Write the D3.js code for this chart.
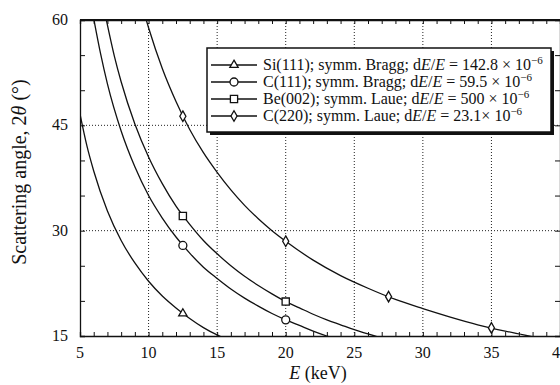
<!DOCTYPE html>
<html>
<head>
<meta charset="utf-8">
<script src="https://cdn.jsdelivr.net/npm/d3@7"></script>
<style>
  body { margin: 0; background: #fff; }
  text { font-family: "Liberation Serif", "DejaVu Serif", serif; fill: #111; }
</style>
</head>
<body>
<div id="chart"></div>
<script>
// data
var siE = [5, 5.5, 6, 7, 8, 9, 10, 11, 12, 13, 14, 15, 15.5];
var siAngle = [46.6, 42.1, 38.5, 32.8, 28.6, 25.4, 22.8, 20.7, 19.0, 17.5, 16.2, 15.15, 14.7];

var c111E = [6, 6.5, 7, 8, 9, 10, 11, 12, 13, 14, 15, 16, 17, 18, 19, 20, 21, 22, 23, 23.5];
var c111Angle = [60.2, 55.2, 50.9, 44.2, 39.1, 35.0, 31.8, 29.1, 26.8, 24.8, 23.2, 21.7, 20.4, 19.25, 18.2, 17.3, 16.5, 15.7, 15.0, 14.7];

var beE = [6.9, 7.5, 8, 9, 10, 11, 12, 13, 14, 15, 16, 17, 18, 19, 20, 21, 22, 23, 24, 25, 26, 27];
var beAngle = [60.2, 54.9, 51.2, 45.2, 40.5, 36.7, 33.5, 30.9, 28.6, 26.7, 25.0, 23.5, 22.2, 21.0, 19.9, 19.0, 18.1, 17.3, 16.6, 15.9, 15.3, 14.7];

var c220E = [9.8, 10, 11, 12, 13, 14, 15, 16, 17, 18, 19, 20, 22, 24, 26, 28, 30, 32, 34, 36, 38];
var c220Angle = [60.2, 58.9, 53.1, 48.4, 44.4, 41.1, 38.3, 35.8, 33.6, 31.7, 30.0, 28.5, 25.8, 23.6, 21.8, 20.2, 18.9, 17.7, 16.6, 15.7, 14.9];

// marker points
var siMarkE = [12.5], siMarkAngle = [18.2];
var c111MarkE = [12.5, 20], c111MarkAngle = [27.9, 17.3];
var beMarkE = [12.5, 20], beMarkAngle = [32.1, 19.9];
var c220MarkE = [12.5, 20, 27.5, 35], c220MarkAngle = [46.3, 28.5, 20.6, 16.15];

var xTicks = [5, 10, 15, 20, 25, 30, 35, 40];
var yTicks = [15, 30, 45, 60];
var xGrid = [10, 15, 20, 25, 30, 35];
var yGrid = [30, 45];

var legendNames = ["Si(111); symm. Bragg; d", "C(111); symm. Bragg; d", "Be(002); symm. Laue; d", "C(220); symm. Laue; d"];
var legendValues = [" = 142.8 \u00d7 10", " = 59.5 \u00d7 10", " = 500 \u00d7 10", " = 23.1\u00d7 10"];

var svgWidth = 560, svgHeight = 385;
var plotLeft = 80, plotRight = 560, plotTop = 20, plotBottom = 336;

var svg = d3.select("#chart").append("svg")
  .attr("width", svgWidth)
  .attr("height", svgHeight);

var x = d3.scaleLinear().domain([5, 40]).range([plotLeft, plotRight]);
var y = d3.scaleLinear().domain([15, 60]).range([plotBottom, plotTop]);

// clip for curves
svg.append("defs").append("clipPath").attr("id", "plotclip")
  .append("rect")
  .attr("x", plotLeft).attr("y", plotTop)
  .attr("width", plotRight - plotLeft).attr("height", plotBottom - plotTop);

// dotted grid
svg.append("g").selectAll("line")
  .data(xGrid).enter().append("line")
  .attr("x1", d => x(d)).attr("x2", d => x(d))
  .attr("y1", plotTop).attr("y2", plotBottom)
  .attr("stroke", "#222").attr("stroke-width", 1)
  .attr("stroke-dasharray", "1,2");

svg.append("g").selectAll("line")
  .data(yGrid).enter().append("line")
  .attr("x1", plotLeft).attr("x2", plotRight)
  .attr("y1", d => y(d)).attr("y2", d => y(d))
  .attr("stroke", "#222").attr("stroke-width", 1)
  .attr("stroke-dasharray", "1,2");

// axes with inward ticks
var bottomAxis = d3.axisTop(x).ticks(35).tickSize(4).tickFormat("");
var topAxis = d3.axisBottom(x).ticks(35).tickSize(4).tickFormat("");
var leftAxis = d3.axisRight(y).ticks(9).tickSize(5).tickFormat("");
var rightAxis = d3.axisLeft(y).ticks(9).tickSize(5).tickFormat("");

svg.append("g").attr("transform", `translate(0, ${plotBottom})`).call(bottomAxis);
svg.append("g").attr("transform", `translate(0, ${plotTop})`).call(topAxis);
svg.append("g").attr("transform", `translate(${plotLeft}, 0)`).call(leftAxis);
svg.append("g").attr("transform", `translate(${plotRight}, 0)`).call(rightAxis);

svg.selectAll(".domain").attr("stroke", "#111").attr("stroke-width", 1.3);
svg.selectAll(".tick line").attr("stroke", "#111").attr("stroke-width", 1);

// thicker top border
svg.append("line")
  .attr("x1", plotLeft).attr("x2", plotRight)
  .attr("y1", plotTop).attr("y2", plotTop)
  .attr("stroke", "#111").attr("stroke-width", 2);

// tick labels
svg.append("g").selectAll("text")
  .data(xTicks).enter().append("text")
  .attr("x", d => x(d)).attr("y", 358)
  .attr("text-anchor", "middle")
  .attr("font-size", "16px")
  .text(d => d);

svg.append("g").selectAll("text")
  .data(yTicks).enter().append("text")
  .attr("x", 68).attr("y", d => y(d) + 5)
  .attr("text-anchor", "end")
  .attr("font-size", "16px")
  .text(d => d);

// axis titles
var xTitle = svg.append("text")
  .attr("x", 318).attr("y", 379)
  .attr("text-anchor", "middle")
  .attr("font-size", "18px");
xTitle.append("tspan").attr("font-style", "italic").text("E");
xTitle.append("tspan").text(" (keV)");

var yTitle = svg.append("text")
  .attr("transform", "translate(26, 172) rotate(-90)")
  .attr("text-anchor", "middle")
  .attr("font-size", "20px");
yTitle.append("tspan").text("Scattering angle, 2");
yTitle.append("tspan").attr("font-style", "italic").text("\u03b8");
yTitle.append("tspan").text(" (\u00b0)");

// curves
var series = [
  {e: siE, a: siAngle, me: siMarkE, ma: siMarkAngle, sym: d3.symbolTriangle, size: 30},
  {e: c111E, a: c111Angle, me: c111MarkE, ma: c111MarkAngle, sym: d3.symbolCircle, size: 50},
  {e: beE, a: beAngle, me: beMarkE, ma: beMarkAngle, sym: d3.symbolSquare, size: 52},
  {e: c220E, a: c220Angle, me: c220MarkE, ma: c220MarkAngle, sym: d3.symbolDiamond, size: 32}
];

var line = d3.line()
  .x(d => x(d[0]))
  .y(d => y(d[1]))
  .curve(d3.curveMonotoneX);

var curveGroup = svg.append("g").attr("clip-path", "url(#plotclip)");

series.forEach(function(s) {
  var pts = s.e.map((v, i) => [v, s.a[i]]);
  curveGroup.append("path")
    .datum(pts)
    .attr("d", line)
    .attr("fill", "none")
    .attr("stroke", "#111")
    .attr("stroke-width", 1.3);
});

series.forEach(function(s) {
  var marks = s.me.map((v, i) => [v, s.ma[i]]);
  svg.append("g").selectAll("path")
    .data(marks).enter().append("path")
    .attr("transform", d => `translate(${x(d[0])}, ${y(d[1])})`)
    .attr("d", d3.symbol().type(s.sym).size(s.size))
    .attr("fill", "#fff")
    .attr("stroke", "#111")
    .attr("stroke-width", 1.3);
});

// legend box with shadow
var lx = 207, ly = 48, lw = 344, lh = 84;
svg.append("rect")
  .attr("x", lx + 3).attr("y", ly + 3)
  .attr("width", lw).attr("height", lh)
  .attr("fill", "#111");
svg.append("rect")
  .attr("x", lx).attr("y", ly)
  .attr("width", lw).attr("height", lh)
  .attr("fill", "#fff")
  .attr("stroke", "#111")
  .attr("stroke-width", 1.5);

var rowY = [65, 82, 99, 116];

series.forEach(function(s, i) {
  var yy = rowY[i];
  svg.append("line")
    .attr("x1", 211).attr("x2", 257)
    .attr("y1", yy).attr("y2", yy)
    .attr("stroke", "#111").attr("stroke-width", 1.3);
  svg.append("path")
    .attr("transform", `translate(234, ${yy})`)
    .attr("d", d3.symbol().type(s.sym).size(s.size))
    .attr("fill", "#fff")
    .attr("stroke", "#111")
    .attr("stroke-width", 1.3);

  var t = svg.append("text")
    .attr("x", 263).attr("y", yy + 5)
    .attr("font-size", "16px");
  t.append("tspan").text(legendNames[i]);
  t.append("tspan").attr("font-style", "italic").text("E");
  t.append("tspan").text("/");
  t.append("tspan").attr("font-style", "italic").text("E");
  t.append("tspan").text(legendValues[i]);
  t.append("tspan").attr("dy", -6).attr("font-size", "11px").text("\u22126");
});
</script>
</body>
</html>
